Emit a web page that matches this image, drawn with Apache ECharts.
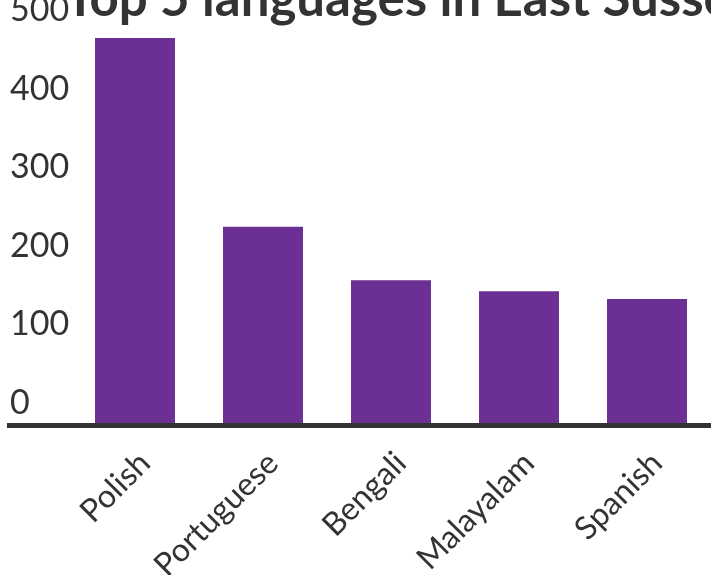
<!DOCTYPE html>
<html><head><meta charset="utf-8">
<script src="https://cdn.jsdelivr.net/npm/echarts@6/dist/echarts.min.js"></script>
<style>html,body{margin:0;padding:0;background:#fff}#c{width:711px;height:575px}</style>
</head><body><div id="c"></div>
<script>
var titleText = "Top 5 languages in East Sussex";
var categories = ["Polish", "Portuguese", "Bengali", "Malayalam", "Spanish"];
var values = [491, 251, 183, 169, 159];
var yTicks = [0, 100, 200, 300, 400, 500];

var font = "Lato";
var chart = echarts.init(document.getElementById('c'));
chart.setOption({
  animation: false,
  title: {
    text: titleText, left: 60, top: -31,
    textStyle: {fontFamily: font, fontSize: 51, fontWeight: 'bold', color: '#333'}
  },
  grid: {left: 71, right: 0, top: 31, bottom: 151, outerBoundsMode: 'none', containLabel: false},
  xAxis: {
    type: 'category', data: categories,
    axisLine: {show: false}, axisTick: {show: false},
    axisLabel: {rotate: 45, margin: 24, verticalAlign: 'top', lineHeight: 28,
      fontFamily: font, fontSize: 32, color: '#333'}
  },
  yAxis: {
    type: 'value', min: 0, max: 500, interval: 100,
    splitLine: {show: false}, axisLine: {show: false}, axisTick: {show: false},
    axisLabel: {
      align: 'left', margin: 61, verticalAlign: 'bottom', padding: [0,0,4,0],
      fontFamily: font, fontSize: 34, color: '#333',
      formatter: function (v) { return yTicks.indexOf(v) >= 0 ? String(v) : ''; }
    }
  },
  series: [{
    type: 'bar', data: values, barWidth: 80,
    itemStyle: {color: '#6c2f94'}
  }]
});
var y0 = chart.convertToPixel({yAxisIndex: 0}, 0);
chart.setOption({
  graphic: [{type: 'rect', shape: {x: 7, y: y0 - 1, width: 704, height: 5}, style: {fill: '#333'}, z: 10}]
});
</script></body></html>
